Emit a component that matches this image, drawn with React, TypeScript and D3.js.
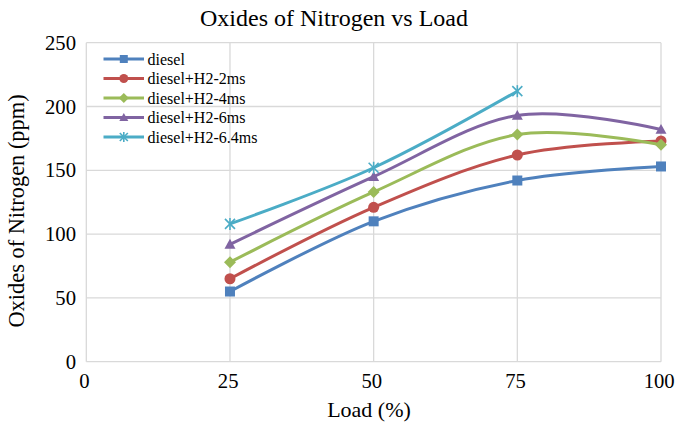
import React from "react";
import * as d3 from "d3";

const loads = [25, 50, 75, 100];
const xTicks = [0, 25, 50, 75, 100];
const yTicks = [0, 50, 100, 150, 200, 250];

const seriesNames = ["diesel", "diesel+H2-2ms", "diesel+H2-4ms", "diesel+H2-6ms", "diesel+H2-6.4ms"];
const diesel = [55, 110, 142, 153];
const h2_2ms = [65, 121, 162, 173];
const h2_4ms = [78, 133, 178, 170];
const h2_6ms = [92, 145, 193, 182];
const h2_64ms = [108, 152, 212];
const seriesValues = [diesel, h2_2ms, h2_4ms, h2_6ms, h2_64ms];
const colors = ["#4F81BD", "#C0504D", "#9BBB59", "#8064A2", "#4BACC6"];
const markers = ["square", "circle", "diamond", "triangle", "star"];

const W = 676;
const H = 424;
const left = 86.3;
const right = 661;
const top = 42.7;
const bottom = 361.7;
const FONT = "'Liberation Serif', 'Times New Roman', serif";

function Marker({ type, x, y, color, s }: { type: string; x: number; y: number; color: string; s: number }) {
  const h = s / 2;
  if (type === "square") return <rect x={x - h} y={y - h} width={s} height={s} fill={color} />;
  if (type === "circle") return <circle cx={x} cy={y} r={h + 0.5} fill={color} />;
  if (type === "diamond") {
    const d = h + 1;
    return <path d={`M${x},${y - d}L${x + d},${y}L${x},${y + d}L${x - d},${y}Z`} fill={color} />;
  }
  if (type === "triangle") {
    const d = h + 0.5;
    return <path d={`M${x},${y - d}L${x + d},${y + d * 0.8}L${x - d},${y + d * 0.8}Z`} fill={color} />;
  }
  const d = h;
  return (
    <g stroke={color} strokeWidth={1.6}>
      <line x1={x - d} y1={y - d} x2={x + d} y2={y + d} />
      <line x1={x - d} y1={y + d} x2={x + d} y2={y - d} />
      <line x1={x} y1={y - d - 1} x2={x} y2={y + d + 1} />
    </g>
  );
}

export default function App() {
  const x = d3.scaleLinear().domain([0, 100]).range([left, right]);
  const y = d3.scaleLinear().domain([0, 250]).range([bottom, top]);
  const line = d3
    .line<[number, number]>()
    .x((d) => x(d[0]))
    .y((d) => y(d[1]))
    .curve(d3.curveCardinal.tension(0));

  return (
    <svg width={W} height={H} style={{ position: "absolute", left: 0, top: 0, background: "#fff" }} fontFamily={FONT}>
      <rect width={W} height={H} fill="#fff" />
      {yTicks.map((t) => (
        <line key={"gy" + t} x1={left} x2={right} y1={y(t)} y2={y(t)} stroke="#D9D9D9" strokeWidth={1.3} />
      ))}
      {xTicks.map((t) => (
        <line key={"gx" + t} x1={x(t)} x2={x(t)} y1={top} y2={bottom} stroke="#D9D9D9" strokeWidth={1.3} />
      ))}
      {yTicks.map((t) => (
        <text key={"ty" + t} x={76} y={y(t) + 7} textAnchor="end" fontSize={20.7} fill="#000">
          {t}
        </text>
      ))}
      {xTicks.map((t) => (
        <text key={"tx" + t} x={x(t) - 1.8} y={387.5} textAnchor="middle" fontSize={20.7} fill="#000">
          {t}
        </text>
      ))}
      {seriesValues.map((vals, i) => {
        const pts = vals.map((v, j) => [loads[j], v] as [number, number]);
        return (
          <g key={"s" + i}>
            <path d={line(pts) || ""} fill="none" stroke={colors[i]} strokeWidth={3} strokeLinejoin="round" />
            {pts.map((p, j) => (
              <Marker key={j} type={markers[i]} x={x(p[0])} y={y(p[1])} color={colors[i]} s={10} />
            ))}
          </g>
        );
      })}
      {seriesNames.map((n, i) => {
        const ly = 59 + i * 19.5;
        return (
          <g key={"l" + i}>
            <line x1={103.5} x2={144} y1={ly} y2={ly} stroke={colors[i]} strokeWidth={3} />
            <Marker type={markers[i]} x={123.8} y={ly} color={colors[i]} s={8} />
            <text x={147.5} y={ly + 5.5} fontSize={16} fill="#000">
              {n}
            </text>
          </g>
        );
      })}
      <text x={334} y={26} textAnchor="middle" fontSize={24} fill="#000">
        Oxides of Nitrogen vs Load
      </text>
      <text x={369} y={417} textAnchor="middle" fontSize={22} fill="#000">
        Load (%)
      </text>
      <text transform="translate(24,211) rotate(-90)" textAnchor="middle" fontSize={22.4} fill="#000">
        Oxides of Nitrogen (ppm)
      </text>
    </svg>
  );
}
